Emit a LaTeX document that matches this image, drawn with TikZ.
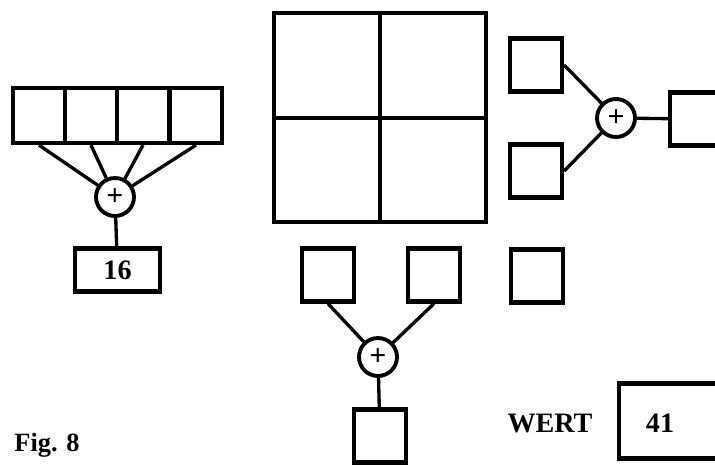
\documentclass[tikz,border=0pt]{standalone}
\usepackage{fontspec}
\setmainfont{Liberation Serif}
\usepackage{tikz}
\usetikzlibrary{positioning}

\tikzset{
  cellbox/.style={draw, line width=2.4pt, minimum width=1.04cm, minimum height=1.06cm,
                  inner sep=0pt, font=\bfseries\fontsize{16}{18}\selectfont},
  sumnode/.style={draw, circle, line width=2.2pt, minimum size=0.76cm, inner sep=0pt,
                  font=\bfseries\fontsize{17}{17}\selectfont},
  wire/.style={line width=1.9pt},
  plaintext/.style={inner sep=0pt, font=\bfseries\fontsize{16}{18}\selectfont},
}

\begin{document}
\begin{tikzpicture}[x=0.02cm,y=-0.02cm]
  \useasboundingbox (0,0) rectangle (715,464);

  % row of four cells summed into 16
  \foreach \i/\x in {1/39,2/91,3/143,4/196}
    \node[cellbox, minimum width=1.05cm, minimum height=1.1cm] (cell\i) at (\x,115.5) {};
  \node[sumnode] (sumL) at (115,197) {+};
  \node[cellbox, minimum width=1.7cm, minimum height=0.86cm] (box16) at (117.5,270) {16};
  \foreach \i in {1,...,4}
    \draw[wire] (cell\i.south) -- (sumL);
  \draw[wire] (sumL) -- (box16);

  % big square, four quarters
  \foreach \i/\x/\y in {1/327/65.5,2/433/65.5,3/327/170,4/433/170}
    \node[cellbox, minimum width=2.12cm, minimum height=2.09cm] (quad\i) at (\x,\y) {};

  % right sum
  \node[cellbox] (topR) at (536,65) {};
  \node[cellbox] (botR) at (536,171) {};
  \node[sumnode] (sumR) at (616,118) {+};
  \node[cellbox] (outR) at (696,119) {};
  \draw[wire] (topR.east) -- (sumR);
  \draw[wire] (botR.east) -- (sumR);
  \draw[wire] (sumR) -- (outR);
  \node[cellbox] (lone) at (537,276) {};

  % bottom sum
  \node[cellbox] (leftB) at (328,275) {};
  \node[cellbox] (rightB) at (434,275) {};
  \node[sumnode] (sumB) at (378,357) {+};
  \node[cellbox] (outB) at (380,436) {};
  \draw[wire] (leftB.south) -- (sumB);
  \draw[wire] (rightB.south) -- (sumB);
  \draw[wire] (sumB) -- (outB);

  % value
  \node[plaintext] (wertlabel) at (550,423) {WERT};
  \node[cellbox, anchor=west, minimum width=2.2cm, minimum height=1.5cm] (wertbox) at (617,421) {};
  \node[plaintext] (wertval) at (660,423) {41};

  \node[plaintext, font=\bfseries\fontsize{15}{17}\selectfont] (figlabel) at (47,445) {Fig. 8};
\end{tikzpicture}
\end{document}
